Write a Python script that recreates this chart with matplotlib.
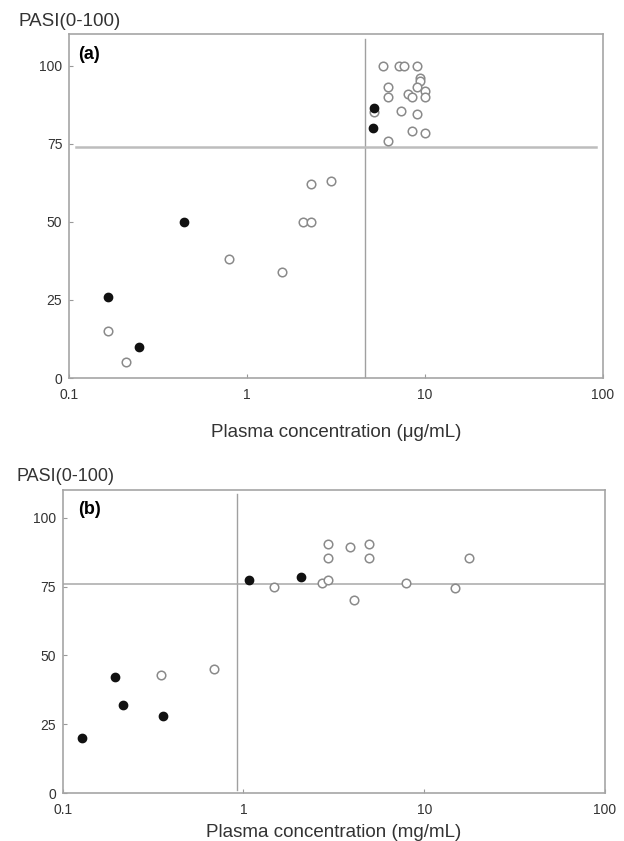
import matplotlib
matplotlib.use("Agg")
import matplotlib.pyplot as plt

plt.rcParams['font.family'] = ['Liberation Sans', 'DejaVu Sans']

# ---- panel (a): plasma concentration in ug/mL vs PASI ----
a_open_x = [0.165, 0.208, 0.79, 1.57, 2.07, 2.28, 2.28, 2.96,
            5.82, 7.12, 7.6, 9.02, 9.44, 9.44, 6.22, 6.2, 8.02, 8.44,
            9.02, 10.05, 10.05, 5.2, 7.38, 8.97, 8.44, 10.05, 6.22]
a_open_y = [15, 5, 38, 34, 50, 50, 62, 63,
            100, 100, 100, 100, 96, 95, 93, 90, 91, 90,
            93, 92, 90, 85, 85.3, 84.4, 79, 78.3, 76]
a_filled_x = [0.165, 0.248, 0.44, 5.2, 5.09]
a_filled_y = [26, 10, 50, 86.3, 80]
a_cut_x = 4.6
a_cut_y = 74

# ---- panel (b): plasma concentration in mg/mL vs PASI ----
b_open_x = [0.352, 0.684, 1.47, 2.72, 2.95, 2.95, 2.95, 3.9, 4.92, 4.92,
            4.1, 7.89, 14.8, 17.7]
b_open_y = [43, 45, 75, 76.3, 77.3, 85.4, 90.5, 89.4, 90.5, 85.4,
            70, 76.3, 74.5, 85.4]
b_filled_x = [0.128, 0.195, 0.216, 0.361, 1.07, 2.07]
b_filled_y = [20, 42, 32, 28, 77.3, 78.4]
b_cut_x = 0.92
b_cut_y = 76

yticks = [0, 25, 50, 75, 100]
xticks = [0.1, 1, 10, 100]
xtick_labels = ['0.1', '1', '10', '100']

fig = plt.figure(figsize=(6.24, 8.41), dpi=100)
W, H = 624.0, 841.0


def draw_panel(ax, ox, oy, fx, fy, cx, cy, tag, tag_x, xlabel, label_y,
               vspan, hspan, hline_style):
    ax.set_xscale('log')
    ax.set_xlim(0.1, 100)
    ax.set_ylim(0, 110)
    ax.axvline(cx, ymin=vspan[0], ymax=vspan[1], color='#a0a0a0', lw=1)
    ax.axhline(cy, xmin=hspan[0], xmax=hspan[1], **hline_style)
    ax.scatter(ox, oy, s=38, facecolors='white', edgecolors='#8a8a8a',
               linewidths=1.1, zorder=3)
    ax.scatter(fx, fy, s=36, color='#111111', zorder=4)
    ax.set_xticks(xticks)
    ax.set_xticklabels(xtick_labels)
    ax.set_yticks(yticks)
    ax.minorticks_off()
    ax.tick_params(direction='in', labelsize=10, labelcolor='#333333',
                   color='#999999', length=3, width=0.8)
    ax.tick_params(axis='x', pad=7)
    ax.tick_params(axis='y', pad=5)
    for sp in ax.spines.values():
        sp.set_color('#a5a5a5')
        sp.set_linewidth(1.2)
    ax.text(tag_x, 0.965, tag, transform=ax.transAxes, fontsize=13,
            fontweight='bold', va='top', ha='left')
    ax.set_xlabel(xlabel, fontsize=13.5, color='#333333', va='center')
    ax.xaxis.set_label_coords(0.5, label_y)


ax1 = fig.add_axes([69.3 / W, 1 - 378 / H, 533.4 / W, 343.7 / H])
draw_panel(ax1, a_open_x, a_open_y, a_filled_x, a_filled_y, a_cut_x, a_cut_y,
           '(a)', 0.016, 'Plasma concentration (\u03bcg/mL)', -0.16,
           (0.0, 0.985), (0.012, 0.987),
           dict(color='#bdbdbd', lw=1.8))
fig.text(18 / W, 1 - 21 / H, 'PASI(0-100)', fontsize=13.5, color='#333333',
         ha='left', va='center')

ax2 = fig.add_axes([62.7 / W, 1 - 793.3 / H, 542.3 / W, 303.3 / H])
draw_panel(ax2, b_open_x, b_open_y, b_filled_x, b_filled_y, b_cut_x, b_cut_y,
           '(b)', 0.028, 'Plasma concentration (mg/mL)', -0.128,
           (0.011, 0.987), (0.0, 1.0),
           dict(color='#a8a8a8', lw=1.1))
fig.text(16 / W, 1 - 476 / H, 'PASI(0-100)', fontsize=13, color='#333333',
         ha='left', va='center')

fig.savefig('out.png', dpi=100)
